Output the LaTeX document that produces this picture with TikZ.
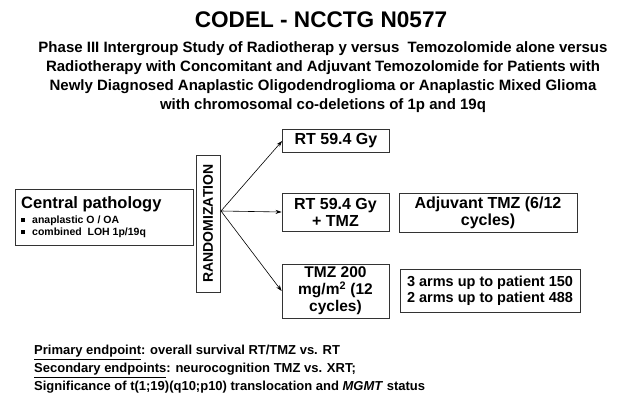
\documentclass[tikz,border=0pt]{standalone}
\usepackage{fontspec}
\setmainfont{Liberation Sans}
\usetikzlibrary{arrows.meta}

\newcommand{\fs}[2]{\bfseries\fontsize{#1}{#2}\selectfont}
\newcommand{\bul}{\rule[0.15em]{0.35em}{0.35em}\hspace{0.7em}}

\begin{document}
\begin{tikzpicture}[x=1pt,y=-1pt,font=\bfseries,
  box/.style={draw=black!80, line width=0.8pt, align=center, inner sep=2pt},
  arr/.style={-{Stealth[length=6pt,width=4pt]}, line width=0.6pt}]
\useasboundingbox (0,0) rectangle (635,396);
\node[font=\fs{22.6}{26}] (title) at (321,20) {CODEL - NCCTG N0577};
\node[align=center, font=\fs{15}{19}] (sub) at (323,77) {Phase III Intergroup Study of Radiotherap y versus\ \ Temozolomide alone versus\\
  Radiotherapy with Concomitant and Adjuvant Temozolomide for Patients with\\
  Newly Diagnosed Anaplastic Oligodendroglioma or Anaplastic Mixed Glioma\\
  with chromosomal co-deletions of 1p and 19q};
 \begin{scope}[every node/.style={box}]
  \node[minimum width=178pt, minimum height=56pt] (cp) at (104,217.5) {};
  \node[rotate=90, minimum width=137pt, minimum height=24pt, font=\fs{14}{16}] (rand) at (208,223.5) {RANDOMIZATION};
  \node[minimum width=107pt, minimum height=23pt, font=\fs{16}{18}] (rt) at (336,141) {RT 59.4 Gy};
  \node[minimum width=107pt, minimum height=38pt, font=\fs{16}{17}] (rtz) at (335.5,212) {RT 59.4 Gy\\+ TMZ};
  \node[minimum width=178pt, minimum height=39pt, font=\fs{16}{17}] (adj) at (488,212.5) {Adjuvant TMZ (6/12\\cycles)};
  \node[minimum width=107pt, minimum height=54pt, font=\fs{15.5}{17}] (tmz) at (335.5,291) {TMZ 200\\mg/m\textsuperscript{2} (12\\cycles)};
  \node[minimum width=180pt, minimum height=43pt, font=\fs{14.5}{16}] (arms) at (490,290.5) {3 arms up to patient 150\\2 arms up to patient 488};
 \end{scope}
 \begin{scope}[every node/.style={anchor=west, inner sep=0pt}]
  \node[font=\fs{16.5}{18}] (cpt) at (21,204) {Central pathology};
  \node[font=\fs{10.5}{12}] (cp1) at (21,221) {\bul anaplastic O / OA};
  \node[font=\fs{10.5}{12}] (cp2) at (21,233) {\bul combined\ \ LOH 1p/19q};
 \end{scope}
\coordinate (split) at (221,211);
\path[arr] (split) edge (rt.west) edge (rtz.west) edge (tmz.west);
\node[anchor=north west, align=left, inner sep=0pt, font=\fs{13}{18}] (end) at (34,345) {\underline{Primary endpoint}: overall survival RT/TMZ vs. RT\\
  \underline{Secondary endpoints}: neurocognition TMZ vs. XRT;\\
  Significance of t(1;19)(q10;p10) translocation and \textit{MGMT} status};
\end{tikzpicture}
\end{document}
